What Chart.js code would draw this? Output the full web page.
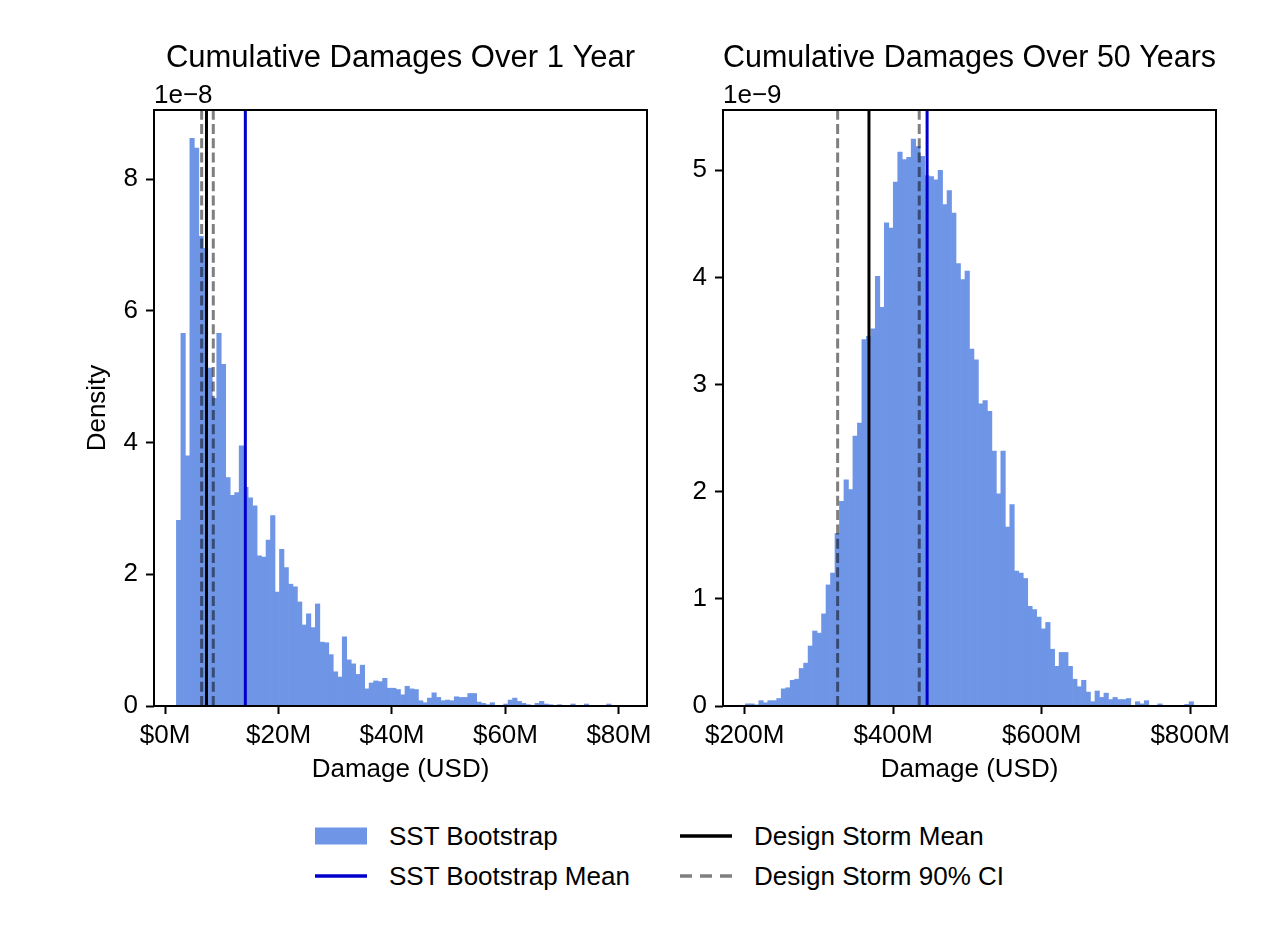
<!DOCTYPE html>
<html>
<head>
<meta charset="utf-8">
<title>Cumulative Damages</title>
<script src="https://cdn.jsdelivr.net/npm/chart.js@4.4.1/dist/chart.umd.min.js"></script>
<style>
    body { margin: 0; background: #ffffff; }
    #wrap { position: relative; width: 1268px; height: 938px; font-family: 'Liberation Sans', Arial, sans-serif; color: #000; }
    canvas { position: absolute; top: 0; }
    #oneYear { left: 0; }
    #fiftyYears { left: 684px; }
    .lg { position: absolute; height: 40px; display: flex; align-items: center; font-size: 26px; white-space: nowrap; }
    .lg svg { margin-right: 22px; }
</style>
</head>
<body>
<div id="wrap">
    <canvas id="oneYear" width="684" height="800"></canvas>
    <canvas id="fiftyYears" width="584" height="800"></canvas>

    <div class="lg" style="left:315px; top:816px;">
        <svg width="52" height="20"><rect x="0" y="1.5" width="52" height="17" fill="#6e95e6"></rect></svg>
        <span>SST Bootstrap</span>
    </div>
    <div class="lg" style="left:315px; top:856px;">
        <svg width="52" height="20"><line x1="0" y1="10" x2="52" y2="10" stroke="#0000cd" stroke-width="3.3"></line></svg>
        <span>SST Bootstrap Mean</span>
    </div>
    <div class="lg" style="left:680px; top:816px;">
        <svg width="52" height="20"><line x1="0" y1="10" x2="52" y2="10" stroke="#000000" stroke-width="3.3"></line></svg>
        <span>Design Storm Mean</span>
    </div>
    <div class="lg" style="left:680px; top:856px;">
        <svg width="52" height="20"><line x1="0" y1="10" x2="52" y2="10" stroke="#808080" stroke-width="3.3" stroke-dasharray="12 8"></line></svg>
        <span>Design Storm 90% CI</span>
    </div>
</div>

<script>
// ---- 1 year histogram ($M, density in units of 1e-8) ----
const oneYearBinStart = 2.0;
const oneYearBinWidth = 0.79;
const oneYearDensity = [
    2.82, 5.66, 3.80, 8.62, 8.47, 7.13, 6.95, 5.13, 4.67, 5.66,
    5.19, 3.47, 3.20, 3.24, 3.95, 3.32, 3.16, 3.04, 2.28, 2.26,
    2.52, 2.89, 1.73, 2.38, 2.10, 1.85, 1.81, 1.58, 1.23, 1.40,
    1.19, 1.55, 0.97, 0.96, 0.78, 0.52, 0.44, 1.05, 0.70, 0.64,
    0.48, 0.62, 0.26, 0.35, 0.38, 0.37, 0.42, 0.27, 0.27, 0.25,
    0.17, 0.30, 0.26, 0.25, 0.08, 0.05, 0.12, 0.20, 0.13, 0.08,
    0.09, 0.08, 0.14, 0.13, 0.13, 0.19, 0.19, 0.06, 0.04, 0.02,
    0.05, 0.00, 0.01, 0.03, 0.09, 0.12, 0.07, 0.04, 0.02, 0.00,
    0.04, 0.07, 0.03, 0.02, 0.01, 0.02, 0.01, 0.01, 0.03, 0.01,
    0.01, 0.03, 0.01, 0.01, 0.01, 0.01, 0.03, 0.01, 0.01, 0.01
];
const oneYearSstMean = 14.15;
const oneYearDesignMean = 7.3;
const oneYearCI = [6.45, 8.5];
const oneYearXTicks = [0, 20, 40, 60, 80];
const oneYearYTicks = [0, 2, 4, 6, 8];

// ---- 50 year histogram ($M, density in units of 1e-9) ----
const fiftyYearBinStart = 200.9;
const fiftyYearBinWidth = 6.037;
const fiftyYearDensity = [
    0.02, 0.02, 0.01, 0.05, 0.03, 0.05, 0.05, 0.07, 0.16, 0.17,
    0.24, 0.25, 0.35, 0.40, 0.56, 0.70, 0.68, 0.86, 1.13, 1.24,
    1.61, 1.91, 2.11, 2.02, 2.52, 2.64, 3.42, 3.45, 3.52, 4.01,
    3.72, 4.51, 4.46, 4.89, 5.17, 5.10, 5.12, 5.29, 5.22, 5.13,
    4.95, 4.94, 4.91, 5.00, 4.68, 4.81, 4.60, 4.13, 3.98, 4.06,
    3.33, 3.23, 2.82, 2.85, 2.75, 2.38, 1.98, 2.38, 1.67, 1.88,
    1.26, 1.24, 1.19, 0.93, 0.90, 0.83, 0.72, 0.78, 0.53, 0.37,
    0.50, 0.50, 0.37, 0.25, 0.18, 0.24, 0.13, 0.04, 0.14, 0.08,
    0.12, 0.06, 0.08, 0.06, 0.06, 0.07, 0.00, 0.04, 0.02, 0.05,
    0.00, 0.00, 0.02, 0.00, 0.00, 0.00, 0.00, 0.00, 0.015, 0.04
];
const fiftyYearSstMean = 445.7;
const fiftyYearDesignMean = 367.4;
const fiftyYearCI = [325.2, 435.1];
const fiftyYearXTicks = [200, 400, 600, 800];
const fiftyYearYTicks = [0, 1, 2, 3, 4, 5];

Chart.defaults.font.family = "'Liberation Sans', Arial, sans-serif";
Chart.defaults.font.size = 26;
Chart.defaults.color = '#000000';

// axes box + offset text (1e-8 / 1e-9)
const framePlugin = {
    id: 'frame',
    afterDatasetsDraw(chart, args, opts) {
        const ctx = chart.ctx;
        const a = chart.chartArea;
        ctx.save();
        ctx.strokeStyle = '#000000';
        ctx.lineWidth = 2;
        ctx.strokeRect(a.left, a.top, a.right - a.left, a.bottom - a.top);
        ctx.fillStyle = '#000000';
        ctx.font = "26px 'Liberation Sans', Arial, sans-serif";
        ctx.textAlign = 'left';
        ctx.textBaseline = 'alphabetic';
        ctx.fillText(opts.exponent, a.left, a.top - 7);
        ctx.restore();
    }
};

const tickGrid = {
    offset: false,
    drawOnChartArea: false,
    drawTicks: true,
    tickLength: 8,
    tickWidth: 2,
    tickColor: '#000000'
};

function histogram(id, h) {
    const bars = h.density.map((d, i) => ({ x: h.binStart + (i + 0.5) * h.binWidth, y: d }));
    const vline = (x) => [{ x: x, y: 0 }, { x: x, y: h.yMax }];
    const lineStyle = { type: 'line', pointRadius: 0, borderWidth: 3, tension: 0, fill: false };

    return new Chart(document.getElementById(id), {
        type: 'bar',
        data: {
            datasets: [
                { type: 'bar', label: 'SST Bootstrap', data: bars, backgroundColor: '#6e95e6',
                  borderWidth: 0, barPercentage: 1, categoryPercentage: 1, order: 9 },
                Object.assign({ label: 'Design Storm 90% CI', data: vline(h.ci[0]),
                  borderColor: 'rgba(0,0,0,0.5)', borderDash: [10, 4.3], order: 4 }, lineStyle),
                Object.assign({ label: 'Design Storm 90% CI', data: vline(h.ci[1]),
                  borderColor: 'rgba(0,0,0,0.5)', borderDash: [10, 4.3], order: 3 }, lineStyle),
                Object.assign({ label: 'Design Storm Mean', data: vline(h.designMean),
                  borderColor: '#000000', order: 2 }, lineStyle),
                Object.assign({ label: 'SST Bootstrap Mean', data: vline(h.sstMean),
                  borderColor: '#0000cd', order: 1 }, lineStyle)
            ]
        },
        options: {
            responsive: false,
            animation: false,
            layout: { padding: { left: 0, right: h.padRight, top: 0, bottom: 0 } },
            plugins: {
                legend: { display: false },
                tooltip: { enabled: false },
                title: {
                    display: true,
                    text: h.title,
                    fullSize: false,
                    color: '#000000',
                    font: { size: 31, weight: 'normal' },
                    padding: { top: 39.4, bottom: 33.4 }
                },
                frame: { exponent: h.exponent }
            },
            scales: {
                x: {
                    type: 'linear',
                    min: h.xMin,
                    max: h.xMax,
                    offset: false,
                    afterBuildTicks: (s) => { s.ticks = h.xTicks.map(v => ({ value: v })); },
                    afterFit: (s) => { s.height = 94; },
                    ticks: { padding: 6, maxRotation: 0, autoSkip: false, callback: (v) => '$' + v + 'M' },
                    grid: tickGrid,
                    border: { display: false },
                    title: { display: true, text: 'Damage (USD)', padding: { top: 0, bottom: 14.4 } }
                },
                y: {
                    type: 'linear',
                    min: 0,
                    max: h.yMax,
                    afterBuildTicks: (s) => { s.ticks = h.yTicks.map(v => ({ value: v })); },
                    afterFit: (s) => { s.width = h.yWidth; },
                    ticks: { padding: 8, callback: (v) => String(v) },
                    grid: tickGrid,
                    border: { display: false },
                    title: { display: h.yTitle !== '', text: h.yTitle, padding: { top: 82.4, bottom: 0 } }
                }
            }
        },
        plugins: [framePlugin]
    });
}

var chartOneYear = histogram('oneYear', {
    title: 'Cumulative Damages Over 1 Year',
    exponent: '1e\u22128',
    density: oneYearDensity,
    binStart: oneYearBinStart,
    binWidth: oneYearBinWidth,
    sstMean: oneYearSstMean,
    designMean: oneYearDesignMean,
    ci: oneYearCI,
    xTicks: oneYearXTicks,
    yTicks: oneYearYTicks,
    xMin: -1.95,
    xMax: 84.95,
    yMax: 9.05,
    yWidth: 154,
    padRight: 37,
    yTitle: 'Density'
});

var chartFiftyYears = histogram('fiftyYears', {
    title: 'Cumulative Damages Over 50 Years',
    exponent: '1e\u22129',
    density: fiftyYearDensity,
    binStart: fiftyYearBinStart,
    binWidth: fiftyYearBinWidth,
    sstMean: fiftyYearSstMean,
    designMean: fiftyYearDesignMean,
    ci: fiftyYearCI,
    xTicks: fiftyYearXTicks,
    yTicks: fiftyYearYTicks,
    xMin: 170.8,
    xMax: 834.8,
    yMax: 5.5625,
    yWidth: 39,
    padRight: 52,
    yTitle: ''
});
</script>
</body>
</html>
